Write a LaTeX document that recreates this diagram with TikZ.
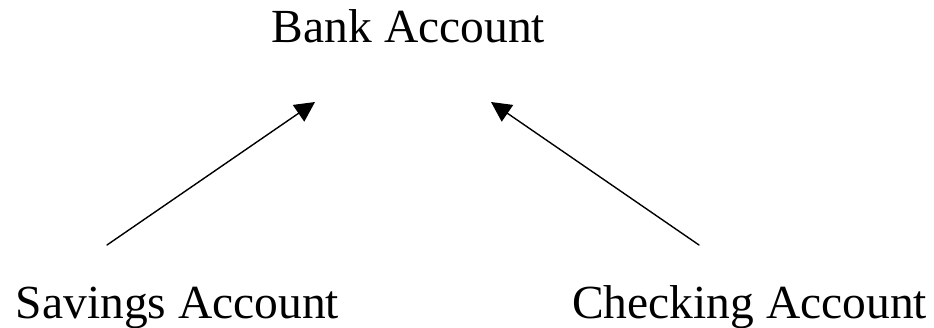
\documentclass[tikz,border=0pt]{standalone}
\usepackage{fontspec}
\setmainfont{Liberation Serif}
\usetikzlibrary{arrows.meta}
\tikzset{
  acct/.style={anchor=base, inner sep=0pt, font=\fontsize{47.5}{57}\selectfont},
  inherit/.style={line width=1.4pt, -{Triangle[length=20pt,width=20pt]}}
}
\begin{document}
\begin{tikzpicture}[x=1pt,y=-1pt,line join = round, line cap = round]
			\useasboundingbox (0,0) rectangle (934,328);
			\node[acct] (bank) at (408.5,43) {Bank Account};
			\node[acct] (savings) at (177.5,319) {Savings Account};
			\node[acct] (checking) at (749.5,319) {Checking Account};
			\coordinate (S) at (107,245);
			\coordinate (SB) at (315,102);
			\coordinate (C) at (699,245);
			\coordinate (CB) at (491,102);
			\draw[inherit] (S)--(SB);
			\draw[inherit] (C)--(CB);
		\end{tikzpicture}
\end{document}
